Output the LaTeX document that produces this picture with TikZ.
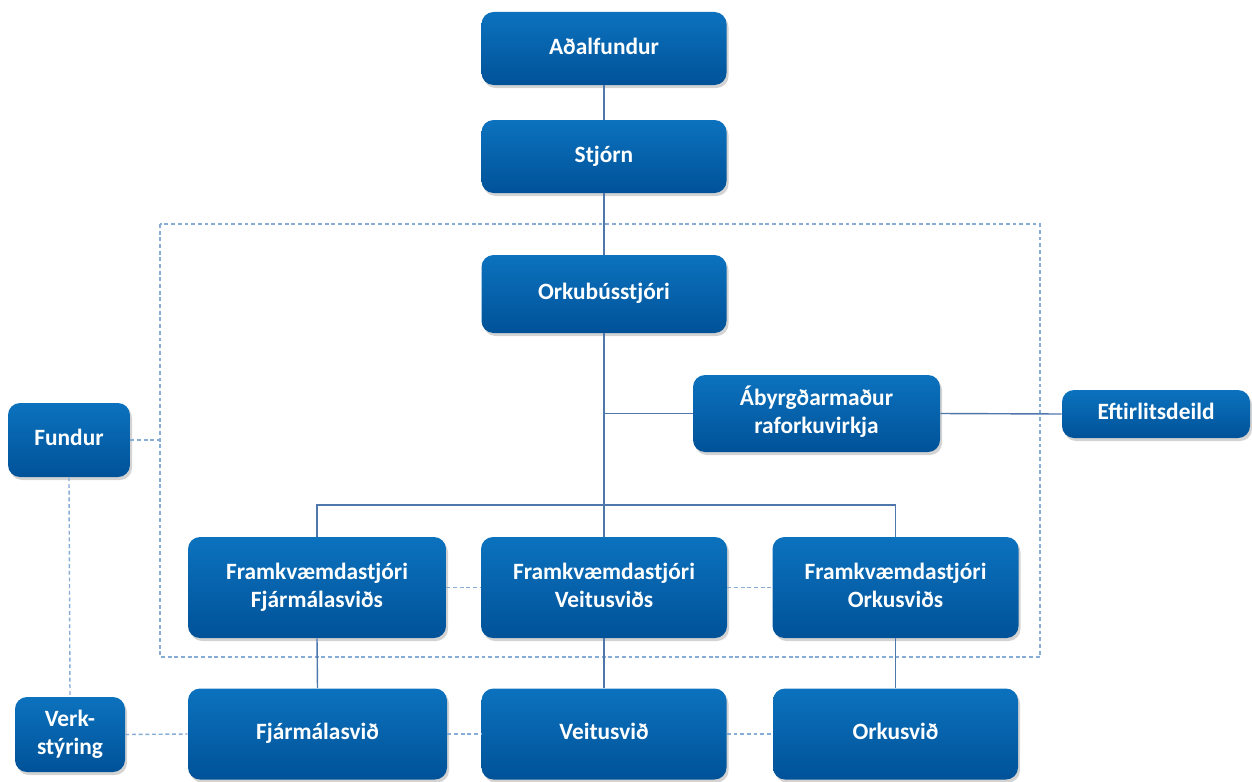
\documentclass[tikz,border=0pt]{standalone}
\usepackage{fontspec}
\setmainfont{Carlito}
\usepackage{tikz}
\usetikzlibrary{calc}
\usetikzlibrary{shadows}
\definecolor{boxtop}{RGB}{12,114,190}
\definecolor{boxbot}{RGB}{0,82,152}
\definecolor{linblue}{RGB}{78,120,172}
\definecolor{dashblue}{RGB}{135,172,214}
\tikzset{
  eining/.style={rectangle, rounded corners=0.24cm, top color=boxtop, bottom color=boxbot,
    draw=none, text=white, align=center, inner sep=2pt,
    font=\fontsize{13.3}{16}\selectfont\bfseries,
    drop shadow={opacity=0.35, shadow xshift=0.04cm, shadow yshift=-0.06cm}},
  tengi/.style={draw=linblue, line width=0.8pt},
  strik/.style={draw=dashblue, line width=0.8pt, dash pattern=on 2.2pt off 1.6pt}
}
\newcommand{\eining}[5]{
  \node[eining, minimum width=#3cm, minimum height=#4cm] (#1) at (#2) {\strut #5\strut};
}

\begin{document}
\begin{tikzpicture}
      \useasboundingbox (0,0) rectangle (25.04,-15.62);

      % rammi
      \coordinate (rammiNW) at (3.2,-4.48);
      \coordinate (rammiSE) at (20.8,-13.14);
      \draw[strik] (rammiNW) rectangle (rammiSE);

      \eining{adal}{12.08,-0.97}{4.9}{1.46}{Aðalfundur}
      \eining{stjorn}{12.08,-3.13}{4.9}{1.46}{Stjórn}
      \eining{orkub}{12.08,-5.88}{4.9}{1.56}{Orkubússtjóri}
      \eining{abyrgd}{16.33,-8.27}{4.94}{1.54}{Ábyrgðarmaður\\raforkuvirkja}
      \eining{eftirlit}{23.12,-8.28}{3.76}{0.96}{Eftirlitsdeild}
      \eining{fundur}{1.38,-8.8}{2.44}{1.48}{Fundur}

      \eining{fjfram}{6.34,-11.75}{5.16}{2.02}{Framkvæmdastjóri\\Fjármálasviðs}
      \eining{veitfram}{12.08,-11.75}{4.92}{2.02}{Framkvæmdastjóri\\Veitusviðs}
      \eining{orkfram}{17.91,-11.75}{4.92}{2.02}{Framkvæmdastjóri\\Orkusviðs}

      \eining{fjsvid}{6.35,-14.68}{5.18}{1.82}{Fjármálasvið}
      \eining{veitsvid}{12.08,-14.68}{4.9}{1.82}{Veitusvið}
      \eining{orksvid}{17.91,-14.68}{4.9}{1.82}{Orkusvið}
      \eining{verk}{1.4,-14.69}{2.2}{1.5}{Verk-\\stýring}

      % línur
      \coordinate (skinn) at (12.08,-10.1);
      \draw[tengi] (adal) -- (stjorn);
      \draw[tengi] (stjorn) -- (orkub);
      \draw[tengi] (orkub) -- (skinn);
      \draw[tengi] (orkub.south |- abyrgd.west) -- (abyrgd.west);
      \draw[tengi] (abyrgd.east) -- (eftirlit.west);
      \draw[tengi] (fjfram.north) -- (fjfram.north |- skinn) -- (orkfram.north |- skinn) -- (orkfram.north);
      \draw[tengi] (skinn) -- (veitfram.north);
      \foreach \a/\b in {fjfram/fjsvid, veitfram/veitsvid, orkfram/orksvid} {
        \draw[tengi] (\a.south) -- (\b.north);
      }

      \draw[strik] (fundur.east) -- (fundur.east -| rammiNW);
      \draw[strik] (fundur.south) -- (verk.north);
      \foreach \a/\b in {verk/fjsvid, fjsvid/veitsvid, veitsvid/orksvid, fjfram/veitfram, veitfram/orkfram} {
        \draw[strik] (\a.east) -- (\b.west);
      }
  \end{tikzpicture}
\end{document}
